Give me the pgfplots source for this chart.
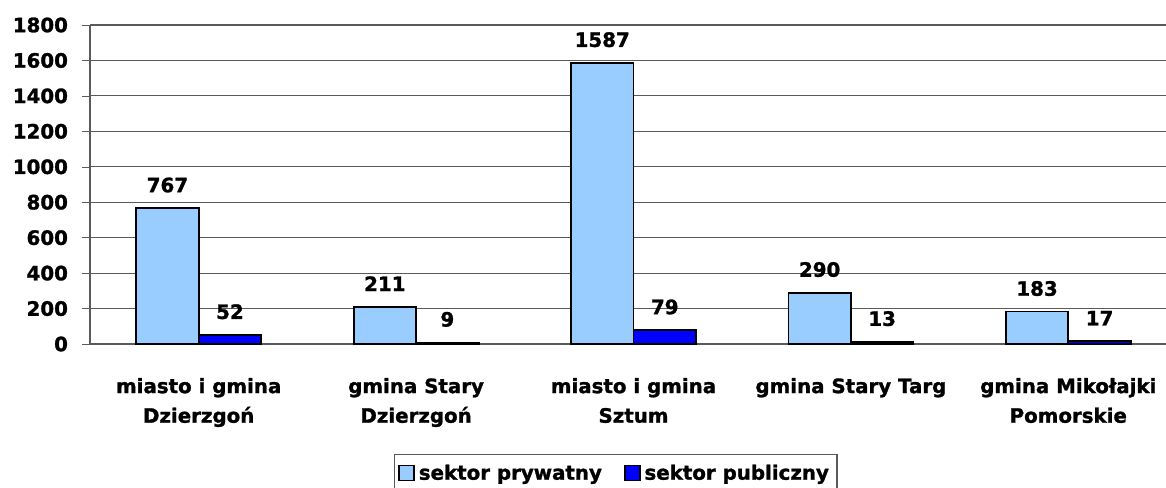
\documentclass[border=0pt]{standalone}
\usepackage{fontspec}
\setmainfont{DejaVu Sans Bold}[FakeBold=1.3]
\usepackage{pgfplots}
\pgfplotsset{compat=1.18}
\definecolor{lightb}{HTML}{99CCFF}
\definecolor{darkb}{HTML}{0000FF}
\definecolor{gridc}{HTML}{5A5A5A}
\begin{document}
\begin{tikzpicture}[font=\fontsize{9.9}{14.8}\selectfont]
\begin{axis}[name=ax,
  scale only axis, width=543.5pt, height=159.5pt,
  xmin=-0.5, xmax=4.5, ymin=0, ymax=1800,
  ytick={0,200,...,1800},
  xtick={0,1,2,3,4},
  xticklabels={{miasto i gmina\\Dzierzgoń},{gmina Stary\\Dzierzgoń},{miasto i gmina\\Sztum},{gmina Stary Targ},{gmina Mikołajki\\Pomorskie}},
  x tick label style={align=center, yshift=-9.5pt, font=\fontsize{9.9}{14.8}\selectfont},
  major x tick style={draw=none},
  extra x ticks={-0.5,0.5,1.5,2.5,3.5},
  extra x tick labels={},
  extra x tick style={major tick length=4pt, tick align=outside, tick style={draw=gridc}, grid=none},
  y tick style={draw=gridc},
  major tick length=4pt, tick align=outside,
  yticklabel style={xshift=-3.5pt, font=\fontsize{9.9}{12}\selectfont},
  /pgf/number format/assume math mode=true,
  /pgf/number format/1000 sep={},
  axis x line*=bottom, axis y line*=left,
  axis line style={draw=gridc, line width=0.6pt, -},
  ymajorgrids, grid style={draw=gridc, line width=0.55pt},
  ybar, bar width=0.2875,
  nodes near coords,
  every node near coord/.append style={yshift=4pt, font=\fontsize{9.9}{12}\selectfont},
  legend columns=2,
  legend style={at={(0.4835,-0.345)}, anchor=north, draw=gridc, line width=0.6pt,
    inner xsep=2pt, inner ysep=3pt,
    /tikz/every even column/.append style={column sep=9pt},
    font=\fontsize{9.9}{12}\selectfont},
  legend image code/.code={\draw[#1,draw=black,line width=0.8pt] (0pt,-3.5pt) rectangle (7.5pt,4pt);},
  clip=false,
]
\addplot[fill=lightb, draw=black, line width=0.9pt, bar shift=-0.14375] coordinates {(0,767) (1,211) (2,1587) (3,290) (4,183)};
\addplot[fill=darkb, draw=black, line width=0.9pt, bar shift=0.14375] coordinates {(0,52) (1,9) (2,79) (3,13) (4,17)};
\legend{sektor prywatny, sektor publiczny}
\end{axis}
\pgfresetboundingbox
\useasboundingbox ([shift={(-45pt,-71.5pt)}]ax.south west) rectangle ([shift={(538pt,172pt)}]ax.south west);
\end{tikzpicture}
\end{document}
